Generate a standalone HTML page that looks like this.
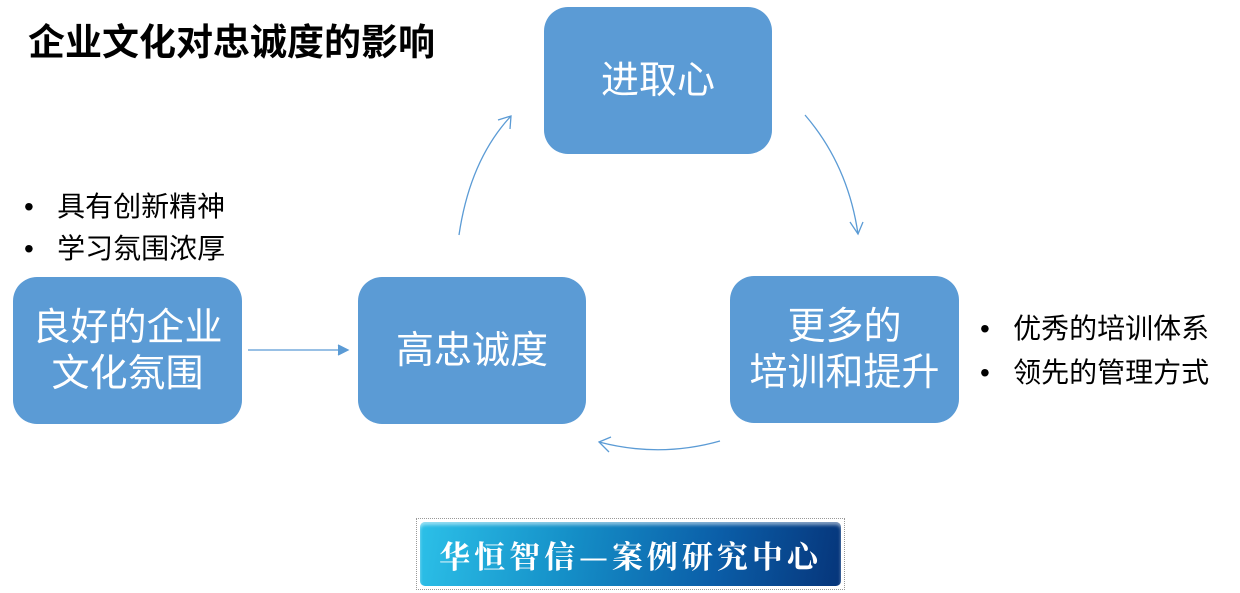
<!DOCTYPE html>
<html><head><meta charset="utf-8"><style>
body{margin:0;width:1240px;height:593px;background:#fff;position:relative;overflow:hidden;font-family:"Liberation Sans","Noto Sans CJK SC",sans-serif}
.b{position:absolute;background:#5b9bd5;border-radius:24px;color:#fff;font-size:38px;display:flex;align-items:center;justify-content:center;text-align:center;line-height:46px}
.t{position:absolute;font-size:28px;color:#000}
</style></head><body>
<div class="t" style="left:28px;top:12px;font-size:37px;font-weight:bold">企业文化对忠诚度的影响</div>
<div class="b" style="left:544px;top:7px;width:228px;height:147px">进取心</div>
<div class="b" style="left:358px;top:277px;width:228px;height:147px">高忠诚度</div>
<div class="b" style="left:730px;top:276px;width:229px;height:147px">更多的<br>培训和提升</div>
<div class="b" style="left:13px;top:277px;width:229px;height:147px">良好的企业<br>文化氛围</div>
<div class="t" style="left:24px;top:186px;line-height:42px">•&nbsp;&nbsp;&nbsp;具有创新精神<br>•&nbsp;&nbsp;&nbsp;学习氛围浓厚</div>
<div class="t" style="left:980px;top:307px;line-height:44px">•&nbsp;&nbsp;&nbsp;优秀的培训体系<br>•&nbsp;&nbsp;&nbsp;领先的管理方式</div>
<svg width="1240" height="593" style="position:absolute;left:0;top:0" fill="none" stroke="#5b9bd5" stroke-width="1.3">
<path d="M459 235 Q470 160 511 116"/><path d="M498 120 L511 116 L510 129"/>
<path d="M805 115 Q848 165 858 234"/><path d="M850 222 L858 234 L863 222"/>
<path d="M720 441 Q660 458 599 442"/><path d="M611 437 L599 442 L609 452"/>
<path d="M248 350 L346 350"/><path d="M338 345 L348 350 L338 355" fill="#5b9bd5"/>
</svg>
<div style="position:absolute;left:416px;top:518px;width:429px;height:72px;border:1px dotted #999;box-sizing:border-box;padding:3px">
<div style="width:100%;height:100%;border-radius:5px;background:linear-gradient(100deg,#2cc0e8 0%,#1590c8 35%,#0b5ea8 70%,#06357a 100%);color:#fff;font-family:'Noto Serif CJK SC',serif;font-weight:bold;font-size:31px;letter-spacing:4px;display:flex;align-items:center;justify-content:center;box-shadow:inset 0 3px 3px rgba(255,255,255,.5)">华恒智信—案例研究中心</div>
</div>
</body></html>
